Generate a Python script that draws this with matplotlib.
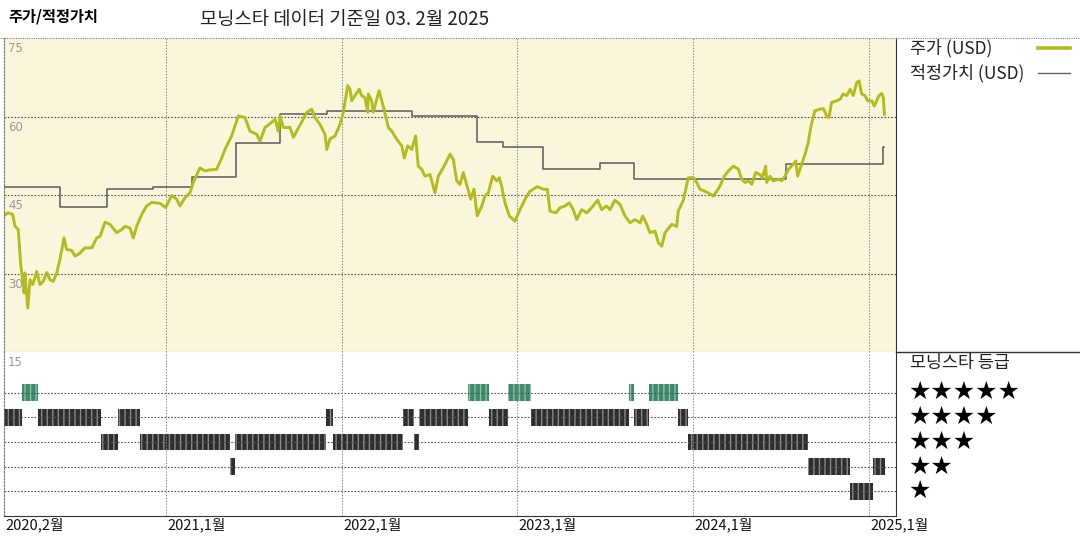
import matplotlib.pyplot as plt
from matplotlib.lines import Line2D

plt.rcParams['font.family'] = ['Noto Sans CJK KR', 'DejaVu Sans']

# price (USD), time as decimal years
price_t = [2020.077, 2020.105, 2020.130, 2020.144, 2020.162, 2020.176, 2020.187, 2020.195, 2020.200, 2020.216,
           2020.229, 2020.244, 2020.257, 2020.267, 2020.286, 2020.304, 2020.324, 2020.343, 2020.361, 2020.381,
           2020.399, 2020.422, 2020.437, 2020.466, 2020.485, 2020.513, 2020.541, 2020.580, 2020.608, 2020.627,
           2020.655, 2020.684, 2020.722, 2020.750, 2020.769, 2020.797, 2020.816, 2020.835, 2020.864, 2020.892,
           2020.921, 2020.968, 2021.000, 2021.034, 2021.063, 2021.081, 2021.110, 2021.138, 2021.157, 2021.195,
           2021.224, 2021.252, 2021.290, 2021.319, 2021.337, 2021.375, 2021.413, 2021.451, 2021.479, 2021.518,
           2021.536, 2021.565, 2021.603, 2021.622, 2021.640, 2021.650, 2021.669, 2021.707, 2021.726, 2021.745,
           2021.773, 2021.802, 2021.830, 2021.849, 2021.877, 2021.906, 2021.916, 2021.934, 2021.963, 2021.991,
           2022.010, 2022.035, 2022.048, 2022.058, 2022.076, 2022.101, 2022.114, 2022.133, 2022.149, 2022.152,
           2022.171, 2022.180, 2022.213, 2022.237, 2022.266, 2022.285, 2022.313, 2022.342, 2022.357, 2022.376,
           2022.399, 2022.421, 2022.436, 2022.456, 2022.474, 2022.503, 2022.531, 2022.550, 2022.578, 2022.617,
           2022.635, 2022.655, 2022.673, 2022.692, 2022.711, 2022.734, 2022.753, 2022.771, 2022.797, 2022.815,
           2022.834, 2022.859, 2022.882, 2022.897, 2022.910, 2022.929, 2022.954, 2022.986, 2023.014, 2023.043,
           2023.071, 2023.113, 2023.147, 2023.170, 2023.185, 2023.219, 2023.242, 2023.270, 2023.295, 2023.317,
           2023.337, 2023.365, 2023.394, 2023.422, 2023.456, 2023.479, 2023.507, 2023.526, 2023.554, 2023.583,
           2023.611, 2023.640, 2023.668, 2023.697, 2023.712, 2023.735, 2023.753, 2023.782, 2023.801, 2023.820,
           2023.839, 2023.877, 2023.905, 2023.914, 2023.943, 2023.971, 2024.000, 2024.019, 2024.038, 2024.066,
           2024.085, 2024.113, 2024.133, 2024.151, 2024.176, 2024.199, 2024.227, 2024.255, 2024.275, 2024.294,
           2024.316, 2024.332, 2024.354, 2024.379, 2024.392, 2024.411, 2024.417, 2024.436, 2024.454, 2024.483,
           2024.502, 2024.521, 2024.540, 2024.568, 2024.582, 2024.593, 2024.612, 2024.635, 2024.653, 2024.669,
           2024.691, 2024.720, 2024.739, 2024.758, 2024.771, 2024.786, 2024.815, 2024.834, 2024.852, 2024.872,
           2024.891, 2024.909, 2024.929, 2024.942, 2024.957, 2024.976, 2024.991, 2025.014, 2025.029, 2025.042,
           2025.055, 2025.071, 2025.080, 2025.086]
price_v = [41.0, 41.6, 41.3, 39.0, 38.4, 31.7, 28.8, 26.3, 30.1, 23.4,
           28.8, 27.9, 29.2, 30.4, 27.9, 28.5, 30.2, 28.8, 28.5, 30.1,
           32.7, 36.8, 34.6, 34.4, 33.3, 33.9, 34.9, 34.9, 36.8, 37.1,
           39.8, 39.4, 37.8, 38.4, 39.0, 38.7, 36.8, 39.0, 41.3, 42.9,
           43.6, 43.4, 42.6, 44.9, 44.2, 42.9, 44.5, 45.4, 47.4, 50.2,
           49.6, 49.8, 49.9, 52.1, 53.7, 56.3, 60.1, 59.8, 57.2, 56.6,
           55.3, 57.9, 58.9, 59.5, 57.2, 60.1, 57.9, 57.9, 56.0, 57.2,
           58.9, 60.8, 61.4, 59.8, 58.5, 56.6, 53.7, 55.7, 56.3, 58.5,
           60.8, 65.9, 65.2, 63.0, 64.0, 65.2, 64.0, 63.6, 60.8, 64.3,
           63.0, 60.8, 64.9, 62.0, 57.9, 57.2, 55.7, 54.4, 52.1, 54.4,
           53.7, 56.3, 50.5, 49.9, 48.6, 48.9, 45.4, 48.6, 50.2, 52.8,
           51.8, 47.7, 47.0, 49.3, 47.0, 44.2, 46.1, 41.0, 42.9, 44.8,
           45.4, 48.6, 47.7, 48.3, 46.7, 43.5, 41.0, 40.0, 42.2, 44.2,
           45.7, 46.6, 46.1, 46.1, 41.9, 41.6, 42.6, 42.9, 43.5, 42.2,
           40.3, 42.2, 41.6, 42.6, 44.0, 42.2, 42.9, 42.2, 44.0, 43.2,
           41.0, 39.7, 40.3, 39.7, 41.0, 39.4, 37.8, 38.1, 35.9, 35.2,
           37.8, 39.4, 39.0, 41.9, 44.0, 48.3, 48.3, 47.4, 46.1, 45.7,
           45.4, 44.8, 45.7, 46.7, 48.6, 49.6, 50.5, 50.0, 48.0, 47.4,
           47.7, 47.0, 49.3, 48.9, 48.3, 50.5, 47.4, 48.6, 47.7, 48.0,
           47.7, 48.6, 49.9, 50.9, 51.5, 48.6, 50.5, 52.8, 55.0, 58.2,
           61.1, 61.4, 61.5, 60.1, 59.8, 62.7, 63.0, 63.3, 64.3, 64.0,
           65.2, 64.0, 66.5, 66.8, 64.3, 64.0, 63.0, 63.0, 62.0, 63.0,
           64.0, 64.4, 63.6, 60.4]

# fair value (USD), step changes
fv_t = [2020.081, 2020.399, 2020.666, 2020.928, 2021.150, 2021.400, 2021.650, 2021.916,
        2022.399, 2022.768, 2022.916, 2023.143, 2023.469, 2023.664, 2024.527, 2025.080]
fv_v = [46.6, 42.7, 46.1, 46.6, 48.4, 55.0, 60.5, 61.1,
        60.1, 55.1, 54.1, 50.0, 51.2, 48.1, 51.0, 54.1]
fv_end = 2025.086

# morningstar rating periods
rating_start = [2020.079, 2020.183, 2020.273, 2020.632, 2020.729, 2020.855, 2021.366, 2021.393,
                2021.914, 2021.951, 2022.349, 2022.413, 2022.438, 2022.720, 2022.838, 2022.944,
                2023.075, 2023.633, 2023.662, 2023.750, 2023.911, 2023.969, 2024.651, 2024.890,
                2025.023]
rating_stars = [4, 5, 4, 3, 4, 3, 2, 3, 4, 3, 4, 3, 4, 5, 4, 5, 4, 5, 4, 5, 4, 3, 2, 1, 2]
rating_end = 2025.089

year_ticks = [2020.083, 2021, 2022, 2023, 2024, 2025]
year_labels = ['2020,2월', '2021,1월', '2022,1월', '2023,1월', '2024,1월', '2025,1월']
price_ticks = [30, 45, 60, 75]

W, H = 1080, 540
fig = plt.figure(figsize=(10.8, 5.4), dpi=100)

def box(x0, y0, x1, y1):
    return [x0 / W, 1 - y1 / H, (x1 - x0) / W, (y1 - y0) / H]

xlim = (2020.081, 2025.152)
ax1 = fig.add_axes(box(4, 38, 896, 352))
ax2 = fig.add_axes(box(4, 352, 896, 516))

# ---- price panel
ax1.set_facecolor('#faf6dc')
ax1.set_xlim(*xlim)
ax1.set_ylim(15, 75)
for y in price_ticks[:-1]:
    ax1.axhline(y, color='#555555', lw=0.8, ls=(0, (1.5, 1.5)))
for x in year_ticks[1:]:
    ax1.axvline(x, color='#888888', lw=0.7, ls=(0, (1.5, 1.5)))
for y in price_ticks:
    ax1.annotate(str(y), (0, y), xycoords=ax1.get_yaxis_transform(), xytext=(3, -3),
                 textcoords='offset points', va='top', ha='left', fontsize=8.5, color='#999999',
                 family='DejaVu Sans')
ax1.step(fv_t + [fv_end], fv_v + [fv_v[-1]], where='post', color='#5a5a5a', lw=1.1)
ax1.plot(price_t, price_v, color='#b3bb1d', lw=2.1)
ax1.set_xticks([])
ax1.set_yticks([])
ax1.spines['top'].set_visible(False)
ax1.spines['left'].set_linestyle((0, (1.5, 1.5)))
ax1.spines['left'].set_color('#777777')
ax1.spines['right'].set_color('#333333')
ax1.spines['bottom'].set_color('#b9b38a')
ax1.spines['bottom'].set_linewidth(0.8)

# ---- rating panel
ax2.set_xlim(*xlim)
ax2.set_ylim(0, 6.64)
for y in range(1, 6):
    ax2.axhline(y, color='#555555', lw=0.8, ls=(0, (1.5, 1.5)))
for x in year_ticks[1:]:
    ax2.axvline(x, color='#888888', lw=0.7, ls=(0, (1.5, 1.5)))
ends = rating_start[1:] + [rating_end]
for s, e, r in zip(rating_start, ends, rating_stars):
    fc = '#3f8a6b' if r == 5 else '#2e2e2e'
    hc = '#8cc2aa' if r == 5 else '#8a8a8a'
    ax2.broken_barh([(s, e - s)], (r - 0.34, 0.68), facecolor=fc, edgecolor=hc,
                    linewidth=0, hatch='|||')
ax2.annotate('15', (0, 6.64), xycoords=ax2.get_yaxis_transform(), xytext=(3, -3),
             textcoords='offset points', va='top', ha='left', fontsize=8.5, color='#999999',
             family='DejaVu Sans')
ax2.set_xticks([])
ax2.set_yticks([])
ax2.spines['top'].set_visible(False)
ax2.spines['left'].set_linestyle((0, (1.5, 1.5)))
ax2.spines['left'].set_color('#777777')
ax2.spines['right'].set_color('#333333')
ax2.spines['bottom'].set_color('#333333')
for x, lab in zip(year_ticks, year_labels):
    ax2.annotate(lab, (x, 0), xycoords=ax2.get_xaxis_transform(), xytext=(1, -1),
                 textcoords='offset points', va='top', ha='left', fontsize=10.5, color='#111111')

# ---- frame lines and right-hand legend
fig.add_artist(Line2D([0, 1], [1 - 37.5 / H] * 2, color='#888888', lw=0.8, ls=(0, (1, 1))))
fig.add_artist(Line2D([896 / W, 1], [1 - 352 / H] * 2, color='#333333', lw=1))

fig.text(8 / W, 1 - 17 / H, '주가/적정가치', fontsize=11, fontweight='bold', va='center', ha='left')
fig.text(200 / W, 1 - 20 / H, '모닝스타 데이터 기준일 03. 2월 2025', fontsize=13.5, va='center', ha='left',
         color='#222222')

fig.text(910 / W, 1 - 48 / H, '주가 (USD)', fontsize=12.5, va='center', ha='left', color='#222222')
fig.add_artist(Line2D([1038 / W, 1070 / W], [1 - 48 / H] * 2, color='#b3bb1d', lw=2.6))
fig.text(910 / W, 1 - 73 / H, '적정가치 (USD)', fontsize=12.5, va='center', ha='left', color='#222222')
fig.add_artist(Line2D([1038 / W, 1070 / W], [1 - 73 / H] * 2, color='#666666', lw=1))

fig.text(910 / W, 1 - 363 / H, '모닝스타 등급', fontsize=12.5, va='center', ha='left', color='#222222')
for n in range(5, 0, -1):
    ypix = 392 + (5 - n) * 24.8
    fig.text(908 / W, 1 - ypix / H, '★' * n, fontsize=18, va='center', ha='left', color='black',
             family='DejaVu Sans')

fig.savefig('out.png', dpi=100)
